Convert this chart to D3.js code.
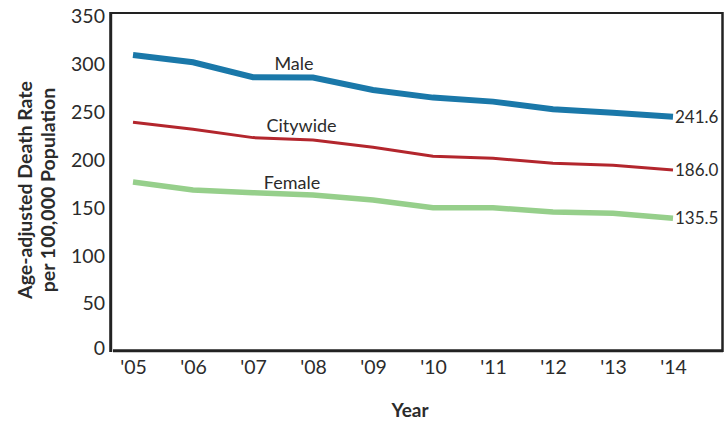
<!DOCTYPE html>
<html><head><meta charset="utf-8">
<script src="https://cdn.jsdelivr.net/npm/d3@7"></script>
<style>
body{margin:0;background:#fff;}
text{font-family:Lato,"Open Sans",sans-serif;fill:#2b2b2b;}
</style></head>
<body>
<svg id="chart" width="728" height="421"></svg>
<script>
const years = ["'05","'06","'07","'08","'09","'10","'11","'12","'13","'14"];
const male = [306.2,298.5,282.9,282.5,269.6,261.6,257.4,249.4,245.9,241.6];
const citywide = [235.8,228.5,219.8,217.3,209.7,200.3,198.2,193.0,190.9,186.0];
const female = [173.5,165.1,162.3,159.9,154.6,146.6,146.6,142.1,140.8,135.5];
const yTicks = [0,50,100,150,200,250,300,350];
const seriesNames = ["Male","Citywide","Female"];
const endLabels = ["241.6","186.0","135.5"];

const svg = d3.select("#chart");
const x = d3.scalePoint().domain(years).range([133,673]);
const y = d3.scaleLinear().domain([0,350]).range([348,13]);

// frame
svg.append("line").attr("x1",110.5).attr("x2",722.5).attr("y1",13).attr("y2",13).attr("stroke","#222").attr("stroke-width",2);
svg.append("line").attr("x1",722.5).attr("x2",722.5).attr("y1",12).attr("y2",352).attr("stroke","#222").attr("stroke-width",2.5);
svg.append("line").attr("x1",110.7).attr("x2",110.7).attr("y1",12).attr("y2",352).attr("stroke","#222").attr("stroke-width",3);
svg.append("line").attr("x1",113).attr("x2",723).attr("y1",350.8).attr("y2",350.8).attr("stroke","#222").attr("stroke-width",3);

// y axis
const ya = svg.append("g").attr("transform","translate(105,0)")
  .call(d3.axisLeft(y).tickValues(yTicks).tickSize(0).tickPadding(0));
ya.select(".domain").remove();
ya.selectAll("text").style("font-size","19.5px").style("font-family","Lato").attr("fill","#2b2b2b")
  .attr("dy",(d)=> d===0 ? "0.35em" : "0.5em");

// x axis
const xa = svg.append("g").attr("transform","translate(0,360)")
  .call(d3.axisBottom(x).tickSize(0).tickPadding(0));
xa.select(".domain").remove();
xa.selectAll("text").style("font-size","19.5px").style("font-family","Lato").attr("fill","#2b2b2b").attr("dy","0.72em");

const series = [
  {name:seriesNames[0], vals:male, color:"#1a78a9", w:6, lx:294, ly:64, end:endLabels[0]},
  {name:seriesNames[1], vals:citywide, color:"#b3262d", w:3, lx:301.5, ly:126, end:endLabels[1]},
  {name:seriesNames[2], vals:female, color:"#96cf8b", w:5.5, lx:292, ly:183, end:endLabels[2]}
];
const line = d3.line().x((d,i)=>x(years[i])).y(d=>y(d));
series.forEach(s=>{
  svg.append("path").datum(s.vals).attr("d",line).attr("fill","none")
    .attr("stroke",s.color).attr("stroke-width",s.w).attr("stroke-linejoin","miter");
  svg.append("text").attr("x",s.lx).attr("y",s.ly).attr("dy","0.35em").attr("text-anchor","middle")
    .style("font-size","18px").text(s.name);
  svg.append("text").attr("x",x(years[years.length-1])+2).attr("y",y(s.vals[s.vals.length-1])).attr("dy","0.35em")
    .style("font-size","17px").text(s.end);
});

// axis titles
svg.append("text").attr("transform","translate(25,190) rotate(-90)").attr("dy","0.35em")
  .attr("text-anchor","middle").style("font-size","19.5px").style("font-weight","bold").attr("fill","#222").text("Age-adjusted Death Rate");
svg.append("text").attr("transform","translate(48,190) rotate(-90)").attr("dy","0.35em")
  .attr("text-anchor","middle").style("font-size","19.5px").style("font-weight","bold").attr("fill","#222").text("per 100,000 Population");
svg.append("text").attr("x",410).attr("y",410).attr("dy","0.35em").attr("text-anchor","middle")
  .style("font-size","19px").style("font-weight","bold").attr("fill","#222").text("Year");
</script>
</body></html>
